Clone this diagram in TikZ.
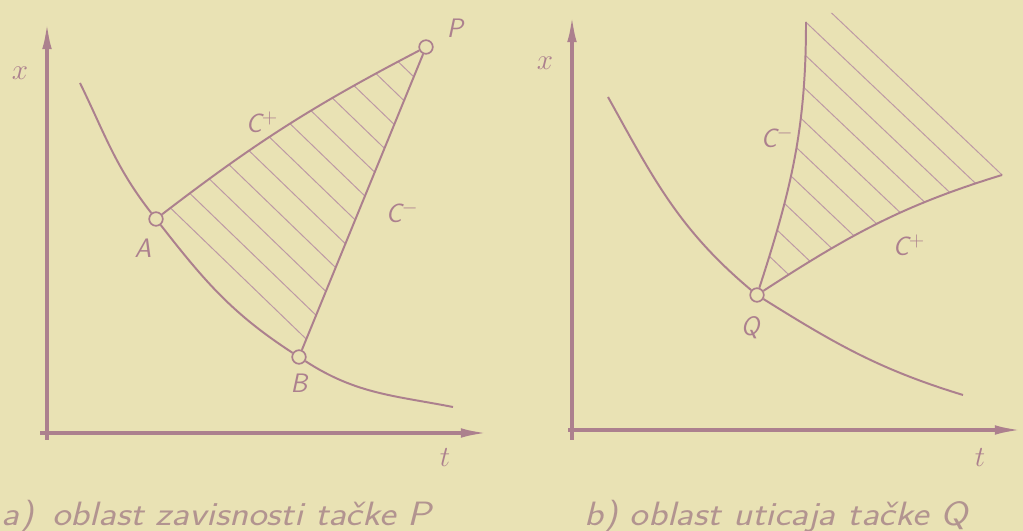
\documentclass[tikz,border=0pt]{standalone}
\usetikzlibrary{arrows.meta,calc}
\pgfdeclarelayer{bg}
\pgfsetlayers{bg,main}
\definecolor{paper}{RGB}{233,226,180}
\definecolor{ink}{RGB}{172,128,142}

\begin{document}
\begin{tikzpicture}[x=0.025cm,y=0.025cm,>={Latex[length=0.68cm,width=0.24cm]},
  every node/.style={font=\fontsize{19}{22}\selectfont\sffamily\slshape,text=ink},
  axis/.style={draw=ink,line width=2.4pt,->},
  curve/.style={draw=ink,line width=1.4pt},
  hatch/.style={draw=ink!80,line width=0.7pt},
  var/.style={font=\fontsize{22}{24}\selectfont},
  caption/.style={font=\fontsize{24}{28}\selectfont\sffamily\slshape,text=ink!90!black!70!paper},
  pt/.style={circle,draw=ink,line width=1.2pt,fill=paper,minimum size=0.34cm,inner sep=0pt}]
  \useasboundingbox (0,0) rectangle (1023,531);
  \begin{pgfonlayer}{bg}
    \fill[paper] (0,0) rectangle (1023,531);
  \end{pgfonlayer}

  % a) domain of dependence
  \coordinate (ox1) at (47,91);
  \coordinate (oy1) at (47,509);
  \coordinate (tx0) at (40,98);
  \coordinate (tx1) at (488,98);
  \draw[axis] (ox1) -- (oy1);
  \draw[axis] (tx0) -- (tx1);
  \node[pt] (A) at (156,312) {};
  \node[pt] (B) at (299,174) {};
  \node[pt] (P) at (426,484) {};
  \coordinate (L0) at (80,448);
  \coordinate (L1) at (453,124);
  \draw[curve] (L0) to[out=-64,in=128] (A) to[out=-52,in=147] (B) to[out=-33,in=169] (L1);
  \draw[curve] (A) to[bend left=5] (P);
  \draw[curve] (B) -- (P);
  \begin{pgfonlayer}{bg}
    \begin{scope}
      \clip (A.center) to[bend left=5] (P.center) -- (B.center) to[out=147,in=-52] (A.center);
      \foreach \k in {0,...,11}
        \draw[hatch] ($(A)!{(\k+0.75)/13}!(P)+(-30,29)$) -- ($(B)!{(\k+0.75)/13}!(P)+(30,-29)$);
    \end{scope}
  \end{pgfonlayer}
  \node (lA) at (143,283) {A};
  \node (lB) at (299,148) {B};
  \node (lP) at (455,503) {P};
  \node (lCp) at (262,409) {C$^+$};
  \node (lCm) at (402,319) {C$^-$};
  \node[var] (lx) at (20,458) {$x$};
  \node[var] (lt) at (445,73) {$t$};
  \node[caption,anchor=west] (capa) at (-3,14) {\scalebox{1.16}[1]{a)\hspace{0.4cm}oblast zavisnosti tačke P}};

  % b) domain of influence
  \coordinate (ox2) at (572,91);
  \coordinate (oy2) at (572,516);
  \coordinate (tx2) at (568,101);
  \coordinate (tx3) at (1022,101);
  \draw[axis] (ox2) -- (oy2);
  \draw[axis] (tx2) -- (tx3);
  \node[pt] (Q) at (757,236) {};
  \coordinate (R0) at (608,434);
  \coordinate (R1) at (963,136);
  \coordinate (Cm) at (806,509);
  \coordinate (Cp) at (1002,356);
  \draw[curve] (R0) to[out=-61,in=140] (Q) to[out=-32,in=163] (R1);
  \draw[curve] (Q) to[out=72,in=-90] (Cm);
  \draw[curve] (Q) to[out=33,in=-163] (Cp);
  \begin{pgfonlayer}{bg}
    \begin{scope}
      \clip (Q.center) to[out=72,in=-90] (Cm) -- (806,518) -- (836,518) -- (1006,356) -- (Cp) to[out=-163,in=33] (Q.center);
      \foreach \k in {0,...,9}
        \draw[hatch] (600,{1308-33.6*\k-570}) -- (1023,{1308-33.6*\k-971.85});
    \end{scope}
  \end{pgfonlayer}
  \node (lQ) at (750,203) {Q};
  \node (lCm2) at (777,394) {C$^-$};
  \node (lCp2) at (909,286) {C$^+$};
  \node[var] (lx2) at (545,468) {$x$};
  \node[var] (lt2) at (980,73) {$t$};
  \node[caption] (capb) at (776,14) {\scalebox{1.16}[1]{b) oblast uticaja tačke Q}};
\end{tikzpicture}
\end{document}
